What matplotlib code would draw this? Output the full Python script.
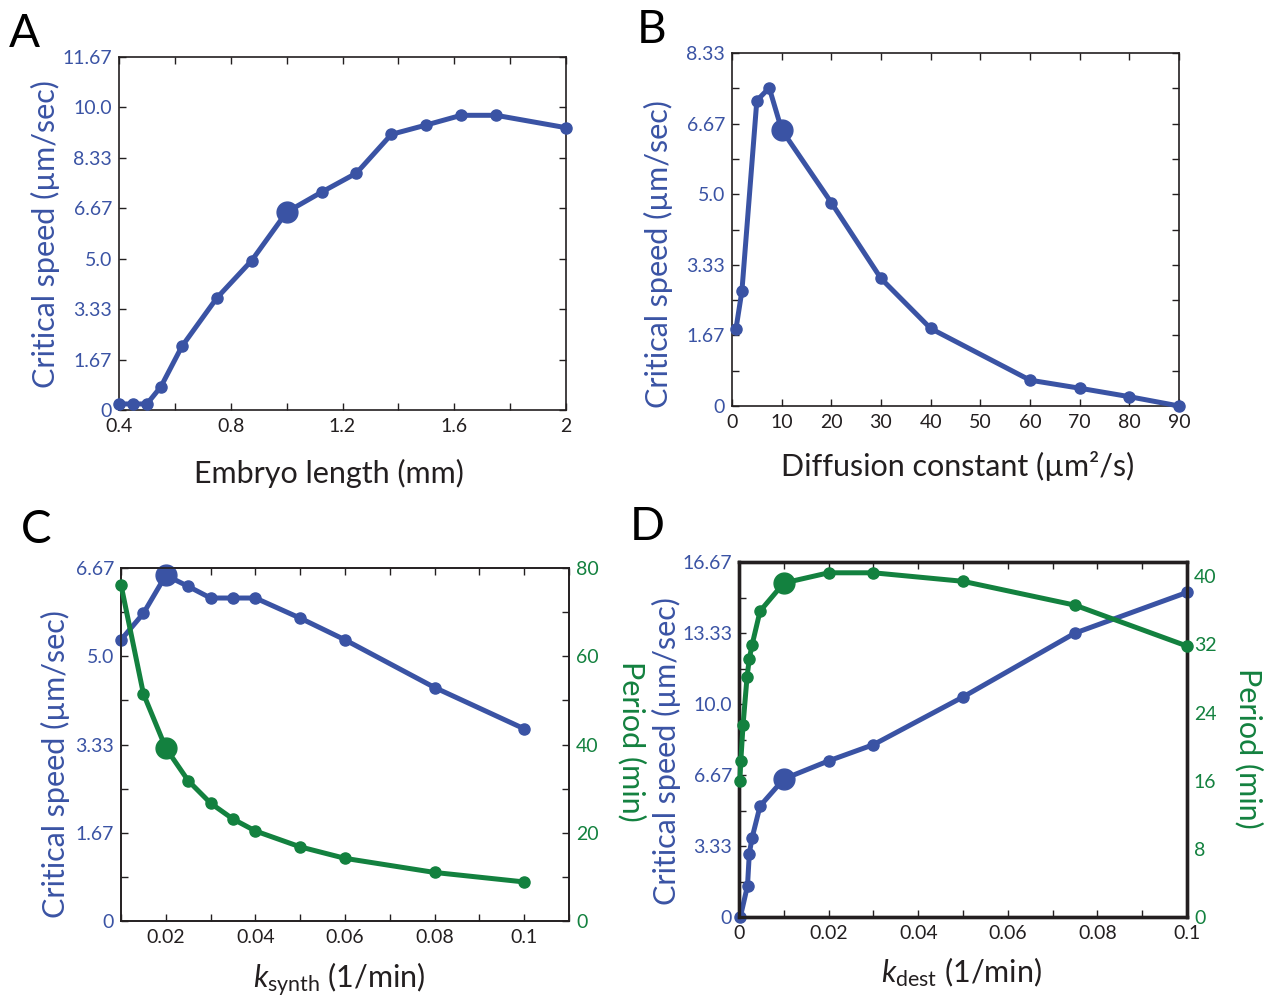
import matplotlib
matplotlib.use("Agg")
import matplotlib.pyplot as plt

plt.rcParams['font.family'] = ['Lato', 'DejaVu Sans']
plt.rcParams['mathtext.fontset'] = 'custom'
plt.rcParams['mathtext.rm'] = 'Lato'
plt.rcParams['mathtext.it'] = 'Lato:italic'

BLUE = '#3a53a4'
GREEN = '#13813f'
INK = '#231f20'

# panel A: critical speed vs embryo length
a_length = [0.4, 0.45, 0.5, 0.55, 0.625, 0.75, 0.875, 1.0, 1.125, 1.25, 1.375, 1.5, 1.625, 1.75, 2.0]
a_speed = [0.2, 0.2, 0.2, 0.77, 2.1, 3.7, 4.94, 6.54, 7.2, 7.83, 9.11, 9.42, 9.74, 9.74, 9.33]
a_mark = 1.0

# panel B: critical speed vs diffusion constant
b_diff = [0.8, 2, 5, 7.5, 10, 20, 30, 40, 60, 70, 80, 90]
b_speed = [1.82, 2.72, 7.21, 7.51, 6.52, 4.80, 3.01, 1.83, 0.61, 0.42, 0.22, 0.0]
b_mark = 10

# panel C: speed and period vs k_synth
c_k = [0.01, 0.015, 0.02, 0.025, 0.03, 0.035, 0.04, 0.05, 0.06, 0.08, 0.1]
c_speed = [5.31, 5.81, 6.53, 6.32, 6.10, 6.10, 6.10, 5.72, 5.31, 4.41, 3.63]
c_period = [76.2, 51.5, 39.2, 31.8, 26.7, 23.1, 20.4, 16.8, 14.2, 11.0, 8.85]
c_mark = 0.02

# panel D: speed and period vs k_dest
d_k_speed = [0.0003, 0.0019, 0.0023, 0.0029, 0.0047, 0.01, 0.02, 0.03, 0.05, 0.075, 0.1]
d_speed = [0.0, 1.47, 2.97, 3.70, 5.21, 6.48, 7.33, 8.09, 10.33, 13.33, 15.24]
d_k_period = [0.0002, 0.0004, 0.0009, 0.0018, 0.0023, 0.0029, 0.0047, 0.01, 0.02, 0.03, 0.05, 0.075, 0.1]
d_period = [16.0, 18.3, 22.5, 28.2, 30.3, 31.9, 35.9, 39.2, 40.4, 40.4, 39.4, 36.6, 31.8]
d_mark = 0.01

# tick labels
a_yticks = [0, 1.667, 3.333, 5.0, 6.667, 8.333, 10.0, 11.667]
a_ylabels = ['0', '1.67', '3.33', '5.0', '6.67', '8.33', '10.0', '11.67']
a_xticks = [0.4, 0.8, 1.2, 1.6, 2.0]
a_xlabels = ['0.4', '0.8', '1.2', '1.6', '2']
b_yticks = [0, 1.667, 3.333, 5.0, 6.667, 8.333]
b_ylabels = ['0', '1.67', '3.33', '5.0', '6.67', '8.33']
b_xticks = [0, 10, 20, 30, 40, 50, 60, 70, 80, 90]
c_yticks = [0, 1.667, 3.333, 5.0, 6.667]
c_ylabels = ['0', '1.67', '3.33', '5.0', '6.67']
c_xticks = [0.02, 0.04, 0.06, 0.08, 0.1]
c_xlabels = ['0.02', '0.04', '0.06', '0.08', '0.1']
c_pticks = [0, 20, 40, 60, 80]
d_yticks = [0, 3.333, 6.667, 10.0, 13.333, 16.667]
d_ylabels = ['0', '3.33', '6.67', '10.0', '13.33', '16.67']
d_xticks = [0, 0.02, 0.04, 0.06, 0.08, 0.1]
d_xlabels = ['0', '0.02', '0.04', '0.06', '0.08', '0.1']
d_pticks = [0, 8, 16, 24, 32, 40]

W, H = 1265, 1000
fig = plt.figure(figsize=(W / 100, H / 100), dpi=100)


def px_axes(l, t, r, b):
    return fig.add_axes([l / W, 1 - b / H, (r - l) / W, (b - t) / H])


def ftxt(x, y, s, **kw):
    fig.text(x / W, 1 - y / H, s, **kw)


def style(ax, lw=1.2):
    for s in ax.spines.values():
        s.set_linewidth(lw)
        s.set_color(INK)
    ax.tick_params(which='both', direction='in', length=5, width=1, color=INK,
                   top=True, right=True, labelsize=14, pad=5)
    ax.tick_params(axis='x', labelcolor=INK, pad=6)
    ax.tick_params(axis='y', labelcolor=BLUE)


def curve(ax, x, y, color, mark):
    ax.plot(x, y, '-o', color=color, lw=3.6, ms=8, clip_on=False, zorder=3)
    i = x.index(mark)
    ax.plot([x[i]], [y[i]], 'o', color=color, ms=15, clip_on=False, zorder=4)


def minor_half(major):
    return [(major[i] + major[i + 1]) / 2 for i in range(len(major) - 1)]


# ---- A
ax = px_axes(119, 57, 566, 410)
curve(ax, a_length, a_speed, BLUE, a_mark)
ax.set_xlim(0.4, 2.0)
ax.set_ylim(0, 11.667)
ax.set_xticks(a_xticks, a_xlabels)
ax.set_xticks(minor_half(a_xticks), minor=True)
ax.set_yticks(a_yticks, a_ylabels)
style(ax)

# ---- B
ax = px_axes(732, 53, 1179, 406)
curve(ax, b_diff, b_speed, BLUE, b_mark)
ax.set_xlim(0, 90)
ax.set_ylim(0, 8.333)
ax.set_xticks(b_xticks, [str(v) for v in b_xticks])
ax.set_yticks(b_yticks, b_ylabels)
ax.set_yticks(minor_half(b_yticks), minor=True)
style(ax)

# ---- C
ax = px_axes(121, 568, 569, 921)
curve(ax, c_k, c_speed, BLUE, c_mark)
ax.set_xlim(0.01, 0.11)
ax.set_ylim(0, 6.667)
ax.set_xticks(c_xticks, c_xlabels)
ax.set_xticks([0.01, 0.03, 0.05, 0.07, 0.09, 0.11], minor=True)
ax.set_yticks(c_yticks, c_ylabels)
ax.set_yticks(minor_half(c_yticks), minor=True)
ax2 = ax.twinx()
curve(ax2, c_k, c_period, GREEN, c_mark)
ax2.set_ylim(0, 80)
ax2.set_yticks(c_pticks, [str(v) for v in c_pticks])
ax2.set_yticks(minor_half(c_pticks), minor=True)
style(ax)
style(ax2)
ax.tick_params(which='both', right=False)
ax2.tick_params(which='both', top=False, left=False, labelcolor=GREEN)

# ---- D
ax = px_axes(739, 562, 1187, 917)
curve(ax, d_k_speed, d_speed, BLUE, d_mark)
ax.set_xlim(0, 0.1)
ax.set_ylim(0, 16.667)
ax.set_xticks(d_xticks, d_xlabels)
ax.set_xticks(minor_half(d_xticks), minor=True)
ax.set_yticks(d_yticks, d_ylabels)
ax.set_yticks(minor_half(d_yticks), minor=True)
ax2 = ax.twinx()
curve(ax2, d_k_period, d_period, GREEN, d_mark)
ax2.set_ylim(0, 41.667)
ax2.set_yticks(d_pticks, [str(v) for v in d_pticks])
style(ax, lw=2.4)
style(ax2, lw=2.4)
ax.tick_params(which='both', right=False)
ax2.tick_params(which='both', top=False, left=False, length=0, labelcolor=GREEN)

# ---- axis labels and panel letters
lab = dict(fontsize=22, ha='center', va='center')
ftxt(45, 234, 'Critical speed (µm/sec)', color=BLUE, rotation=90, **lab)
ftxt(329, 473, 'Embryo length (mm)', color=INK, **lab)
ftxt(658, 254, 'Critical speed (µm/sec)', color=BLUE, rotation=90, **lab)
ftxt(958, 466, 'Diffusion constant (µm²/s)', color=INK, **lab)
ftxt(55, 764, 'Critical speed (µm/sec)', color=BLUE, rotation=90, **lab)
ftxt(632, 741, 'Period (min)', color=GREEN, rotation=270, **lab)
ftxt(339, 980, r'$k_{\mathrm{synth}}$ (1/min)', color=INK, **lab)
ftxt(666, 751, 'Critical speed (µm/sec)', color=BLUE, rotation=90, **lab)
ftxt(1249, 748, 'Period (min)', color=GREEN, rotation=270, **lab)
ftxt(961, 972, r'$k_{\mathrm{dest}}$ (1/min)', color=INK, **lab)

let = dict(fontsize=33, color='black', ha='center', va='baseline')
ftxt(24, 47, 'A', **let)
ftxt(652, 43, 'B', **let)
ftxt(36, 543, 'C', **let)
ftxt(647, 540, 'D', **let)

fig.savefig('out.png', dpi=100)
